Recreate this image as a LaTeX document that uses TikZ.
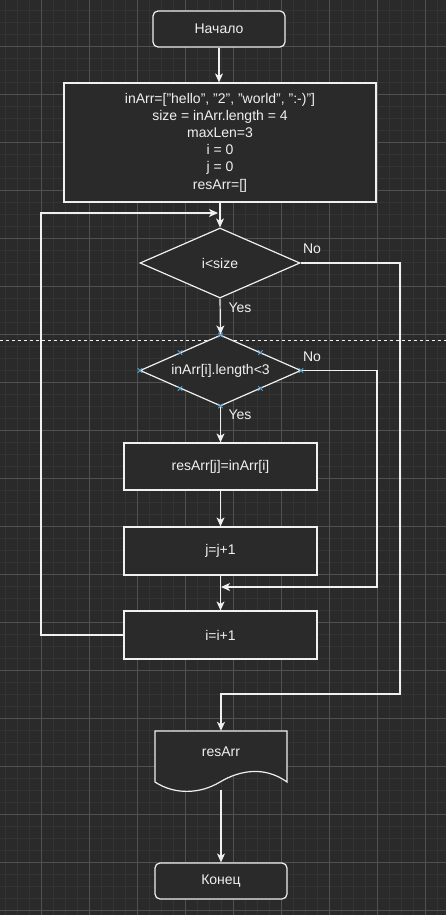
\documentclass[tikz,border=0pt]{standalone}
\usepackage{fontspec}
\setmainfont{Liberation Sans}
\usetikzlibrary{arrows.meta,shapes.geometric}

\definecolor{canvas}{RGB}{42,42,42}
\definecolor{gridminor}{RGB}{52,52,52}
\definecolor{gridmajor}{RGB}{80,80,80}
\definecolor{ink}{RGB}{240,240,240}
\definecolor{handle}{RGB}{90,165,215}

\tikzset{
  every node/.style={text=ink, font=\fontsize{14}{17.2}\selectfont},
  flow/.style={draw=ink, line width=1.2pt},
  arr/.style={flow, -{Stealth[length=9pt,width=8pt,inset=2.5pt]}},
  procbox/.style={draw=ink, line width=1.2pt, fill=canvas, rectangle,
    inner sep=0pt, align=center},
  termbox/.style={procbox, rounded corners=5pt},
  decision/.style={draw=ink, line width=1.2pt, fill=canvas, diamond,
    inner sep=0pt},
  tag/.style={inner sep=0pt},
  hmark/.style={draw=handle, line width=0.9pt},
}

\begin{document}
\begin{tikzpicture}[x=1pt, y=-1pt]
  % canvas and grid
  \fill[canvas] (0,0) rectangle (446,915);
  \useasboundingbox (0,0) rectangle (446,915);
  \begin{scope}[line width=0.8pt, draw=gridminor]
    \foreach \x in {5,17,...,446} \draw (\x,0) -- (\x,915);
    \foreach \y in {10,22,...,915} \draw (0,\y) -- (446,\y);
  \end{scope}
  \begin{scope}[line width=0.8pt, draw=gridmajor]
    \foreach \x in {41,89,...,446} \draw (\x,0) -- (\x,915);
    \foreach \y in {46,94,...,915} \draw (0,\y) -- (446,\y);
  \end{scope}

  % page break line
  \draw[draw=ink!80, line width=0.8pt, dash pattern=on 3pt off 3pt] (0,340) -- (446,340);

  % nodes
  \node[termbox, minimum width=132pt, minimum height=36pt] (start) at (219,29) {Начало};
  \node[procbox, minimum width=312pt, minimum height=119pt] (init) at (220,142.5)
    {inArr=["hello", "2", "world", ":-)"]\\size = inArr.length = 4\\maxLen=3\\i = 0\\j = 0\\resArr=[]};
  \node[decision, minimum width=160pt, minimum height=70pt,
    label={[tag]center:i<size}] (d1) at (220,263) {};
  \node[decision, minimum width=161pt, minimum height=71pt,
    label={[tag]center:inArr[i].length<3}] (d2) at (220.5,370.5) {};
  \node[procbox, minimum width=193pt, minimum height=47pt] (b1) at (220.5,466.5) {resArr[j]=inArr[i]};
  \node[procbox, minimum width=193pt, minimum height=48pt] (b2) at (220.5,551) {j=j+1};
  \node[procbox, minimum width=193pt, minimum height=48pt] (b3) at (220.5,635) {i=i+1};

  % output document shape
  \filldraw[flow, fill=canvas] (155,731) -- (287,731) -- (287,782)
    .. controls (265,766) and (240,770) .. (220,782)
    .. controls (200,794) and (175,795) .. (155,782) -- cycle;
  \node[inner sep=0pt, minimum width=132pt, minimum height=59pt,
    label={[tag, yshift=8.5pt]center:resArr}] (out) at (221,760.5) {};

  \node[termbox, minimum width=132pt, minimum height=36pt] (end) at (221,881) {Конец};

  % branch labels
  \node[tag] (no1) at (312,249) {No};
  \node[tag] (yes1) at (240,308) {Yes};
  \node[tag] (no2) at (312,357) {No};
  \node[tag] (yes2) at (240,415) {Yes};

  % routing points
  \coordinate (loopL) at (41,213);
  \coordinate (loopEnd) at (218,213);
  \coordinate (exitR) at (400,694);
  \coordinate (skipR) at (377,587);
  \coordinate (skipEnd) at (221,587);

  % connectors
  \draw[arr] (start.south) -- (start.south |- init.north);
  \draw[arr] (init.south) -- (d1.north);
  \draw[arr] (d1.south) -- (d2.north);
  \draw[arr] (d2.south) -- (b1.north);
  \draw[arr] (b1.south) -- (b2.north);
  \draw[arr] (b2.south) -- (b3.north);
  \draw[arr] (out.south) -- (end.north);
  \draw[arr] (b3.west) -| (loopL) -- (loopEnd);
  \draw[arr] (d1.east) -| (exitR) -| (out.north);
  \draw[arr] (d2.east) -| (skipR) -- (skipEnd);

  % selection handles on the second decision
  \foreach \p in {(140,370.5),(301,370.5),(220.5,335),(220.5,406),
                  (180,352.5),(260.5,352.5),(180,388.5),(260.5,388.5)} {
    \draw[hmark] \p ++(-2.2,-2.2) -- ++(4.4,4.4);
    \draw[hmark] \p ++(-2.2,2.2) -- ++(4.4,-4.4);
  }
\end{tikzpicture}
\end{document}
